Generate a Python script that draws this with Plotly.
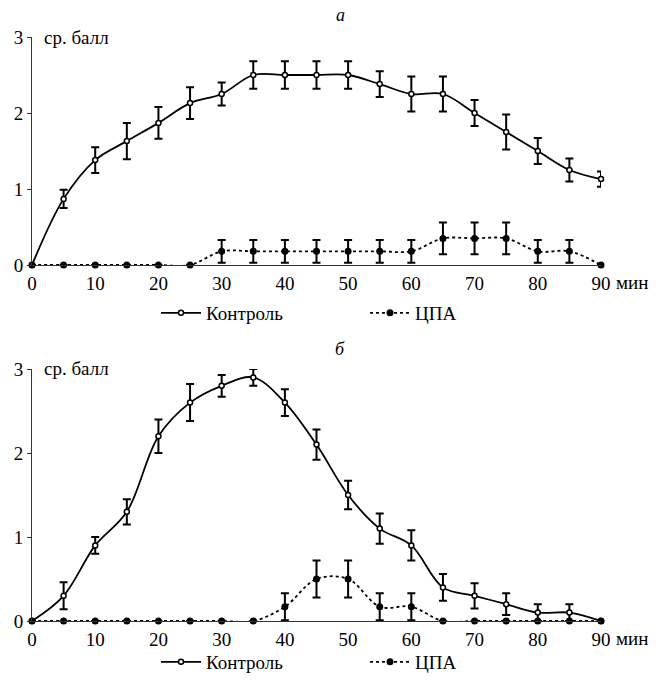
import math
import plotly.graph_objects as go

# ---------------- data ----------------
time_min = [0, 5, 10, 15, 20, 25, 30, 35, 40, 45, 50, 55, 60, 65, 70, 75, 80, 85, 90]

a_control = [0, 0.87, 1.38, 1.63, 1.87, 2.13, 2.25, 2.5, 2.5, 2.5, 2.5, 2.38, 2.25, 2.25, 2.0, 1.75, 1.5, 1.25, 1.13]
a_control_err = [0, 0.12, 0.17, 0.24, 0.21, 0.21, 0.15, 0.18, 0.18, 0.18, 0.18, 0.17, 0.23, 0.23, 0.17, 0.23, 0.17, 0.15, 0.1]
a_cpa = [0, 0, 0, 0, 0, 0, 0.18, 0.18, 0.18, 0.18, 0.18, 0.18, 0.18, 0.35, 0.35, 0.35, 0.18, 0.18, 0]
a_cpa_err = [0, 0, 0, 0, 0, 0, 0.15, 0.15, 0.15, 0.15, 0.15, 0.15, 0.15, 0.21, 0.21, 0.21, 0.15, 0.15, 0]

b_control = [0, 0.3, 0.9, 1.3, 2.2, 2.6, 2.8, 2.9, 2.6, 2.1, 1.5, 1.1, 0.9, 0.4, 0.3, 0.2, 0.1, 0.1, 0]
b_control_err = [0, 0.16, 0.1, 0.15, 0.2, 0.22, 0.13, 0.1, 0.16, 0.18, 0.17, 0.18, 0.18, 0.16, 0.15, 0.13, 0.1, 0.1, 0]
b_cpa = [0, 0, 0, 0, 0, 0, 0, 0, 0.17, 0.5, 0.5, 0.17, 0.17, 0, 0, 0, 0, 0, 0]
b_cpa_err = [0, 0, 0, 0, 0, 0, 0, 0, 0.16, 0.22, 0.22, 0.16, 0.16, 0, 0, 0, 0, 0, 0]

x_ticks = [0, 10, 20, 30, 40, 50, 60, 70, 80, 90]
y_ticks = [0, 1, 2, 3]
series_names = ["Контроль", "ЦПА"]
panel_labels = ["а", "б"]
y_title = "ср. балл"
x_unit = "мин"

FONT = "Times New Roman"
W, H = 667, 686


def nz(v):
    return [e if e else float("nan") for e in v]


fig = go.Figure()


def add_panel(ctrl, ctrl_err, cpa, cpa_err, xa, ya, legend):
    fig.add_trace(go.Scatter(
        x=time_min, y=ctrl, name=series_names[0], xaxis=xa, yaxis=ya, legend=legend,
        mode="lines+markers", line=dict(color="black", width=1.8, shape="spline", smoothing=1),
        marker=dict(symbol="circle", size=5, color="white", line=dict(color="black", width=1.5)),
        error_y=dict(type="data", array=nz(ctrl_err), visible=True, color="black", thickness=2, width=4),
        cliponaxis=False,
    ))
    fig.add_trace(go.Scatter(
        x=time_min, y=cpa, name=series_names[1], xaxis=xa, yaxis=ya, legend=legend,
        mode="lines+markers", line=dict(color="black", width=1.8, dash="dot", shape="spline", smoothing=1),
        marker=dict(symbol="circle", size=7, color="black"),
        error_y=dict(type="data", array=nz(cpa_err), visible=True, color="black", thickness=2, width=4),
        cliponaxis=False,
    ))


add_panel(a_control, a_control_err, a_cpa, a_cpa_err, "x", "y", "legend")
add_panel(b_control, b_control_err, b_cpa, b_cpa_err, "x2", "y2", "legend2")

x_dom = [32 / W, 601 / W]


def ydom(top_px, bot_px):
    return [(H - bot_px) / H, (H - top_px) / H]


xaxis_common = dict(
    range=[0, 90], domain=x_dom, tickvals=x_ticks, showgrid=False, zeroline=False,
    showline=True, linecolor="#333", linewidth=1, ticks="", ticklabelstandoff=1,
    automargin=False,
    tickfont=dict(family=FONT, size=19, color="black"),
)
yaxis_common = dict(
    range=[0, 3], tickvals=y_ticks, showgrid=False, zeroline=False,
    showline=True, linecolor="#333", linewidth=1, ticks="outside", ticklen=4, tickcolor="#333",
    automargin=False,
    tickfont=dict(family=FONT, size=19, color="black"),
)

legend_common = dict(
    orientation="h", xanchor="left", yanchor="middle", x=156 / W,
    font=dict(family=FONT, size=19, color="black"), bgcolor="rgba(0,0,0,0)",
    entrywidth=154, entrywidthmode="pixels", itemwidth=40, tracegroupgap=0,
)

fig.update_layout(
    template="none",
    width=W, height=H, plot_bgcolor="white", paper_bgcolor="white",
    margin=dict(l=0, r=0, t=0, b=0, autoexpand=False), showlegend=True,
    font=dict(family=FONT, color="black"),
    xaxis=dict(xaxis_common, anchor="y"),
    yaxis=dict(yaxis_common, domain=ydom(37, 265), anchor="x"),
    xaxis2=dict(xaxis_common, anchor="y2"),
    yaxis2=dict(yaxis_common, domain=ydom(369, 621), anchor="x2"),
    legend=dict(legend_common, y=(H - 313) / H),
    legend2=dict(legend_common, y=(H - 662) / H),
)

annotations = []
for lbl, ypx, ytitle_px, xunit_px in [(panel_labels[0], 15, 38, 282), (panel_labels[1], 349, 369, 638)]:
    annotations.append(dict(text="<i>" + lbl + "</i>", xref="paper", yref="paper",
                            x=340 / W, y=(H - ypx) / H, showarrow=False, xanchor="center", yanchor="middle",
                            font=dict(family=FONT, size=18, color="black")))
    annotations.append(dict(text=y_title, xref="paper", yref="paper",
                            x=42 / W, y=(H - ytitle_px) / H, showarrow=False, xanchor="left", yanchor="middle",
                            font=dict(family=FONT, size=19, color="black")))
    annotations.append(dict(text=x_unit, xref="paper", yref="paper",
                            x=614 / W, y=(H - xunit_px) / H, showarrow=False, xanchor="left", yanchor="middle",
                            font=dict(family=FONT, size=19, color="black")))
fig.update_layout(annotations=annotations)

fig.write_html("out.html", config={"displayModeBar": False},
               post_script="document.body.style.margin='0';document.body.style.padding='0';")
